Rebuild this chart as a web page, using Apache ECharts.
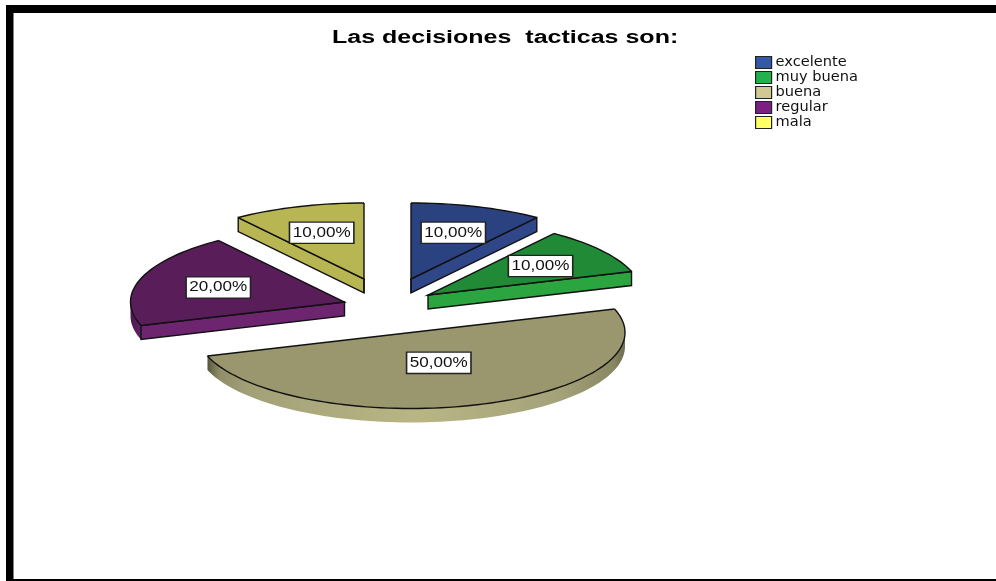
<!DOCTYPE html>
<html>
<head>
<meta charset="utf-8">
<style>html,body{margin:0;padding:0;background:#fff}#c{width:996px;height:581px;filter:blur(0.4px)}</style>
<script src="https://cdn.jsdelivr.net/npm/echarts@6/dist/echarts.min.js"></script>
</head>
<body>
<div id="c"></div>
<script>
var chartTitle = 'Las decisiones  tacticas son:';
var categories = ['excelente', 'muy buena', 'buena', 'regular', 'mala'];
var seriesValues = [10, 10, 50, 20, 10];

// appearance
var legendColors = ['#3557a8', '#22b14c', '#d0ca92', '#7b1f80', '#ffff66'];
var faceColors   = ['#2b4280', '#218a36', '#9a976f', '#591e5a', '#b8b553'];
var wallColors   = ['#2f4788', '#2ba540', '#b0ad7e', '#6d2570', '#b8b553'];
var pieLayout = {
  cx: 387.5, cy: 305, rx: 214, ry: 76, depth: 14,
  explode: [[23.5,-26],[40.5,-10],[23.5,27.5],[-43,-3],[-23.5,-26]],
  labelFactor: [0.64,0.65,0.42,0.62,0.64]
};

var total = seriesValues.reduce(function(a,b){return a+b;},0);

function makeRenderItem(i, startValue) {
  return function (params, api) {
    var L = pieLayout;
    var val = api.value(0);
    var a0 = startValue / total * 360;
    var a1 = (startValue + val) / total * 360;
    var ax = L.cx + L.explode[i][0], ay = L.cy + L.explode[i][1];
    function pt(deg, k, dz) {
      var r = deg * Math.PI / 180;
      return [ax + L.rx * k * Math.sin(r), ay - L.ry * k * Math.cos(r) + (dz || 0)];
    }
    function arc(d0, d1, dz) {
      var out = [], n = Math.max(2, Math.ceil((d1 - d0) / 2));
      for (var j = 0; j <= n; j++) out.push(pt(d0 + (d1 - d0) * j / n, 1, dz));
      return out;
    }
    var kids = [];
    var edge = {stroke:'#111', lineWidth:1.4};
    function edgeWall(deg) {
      var p = pt(deg,1), q = pt(deg,0);
      kids.push({type:'polygon', shape:{points:[q,p,[p[0],p[1]+L.depth],[q[0],q[1]+L.depth]]},
        style:{fill:wallColors[i], stroke:'#111', lineWidth:1.4}});
    }
    // vertical outer wall
    var w0 = Math.max(a0, 90), w1 = Math.min(a1, 270);
    if (w1 > w0) {
      var top = arc(w0, w1, 0), bot = arc(w0, w1, L.depth).reverse();
      var big = (w1 - w0) > 90;
      kids.push({type:'polygon', shape:{points:top.concat(bot)},
        style:{
          fill: big ? {type:'linear',x:0,y:0,x2:1,y2:0,colorStops:[
              {offset:0,color:'#55543c'},{offset:0.01,color:'#6b6a4c'},{offset:0.03,color:'#918f6a'},{offset:0.1,color:'#a2a077'},
              {offset:0.5,color:'#b9b685'},{offset:0.85,color:'#a3a178'},{offset:0.97,color:'#8a8863'},{offset:1,color:'#6e6d50'}]}
            : {type:'linear',x:0,y:0,x2:1,y2:0,colorStops:[
              {offset:0,color:'#4a1a50'},{offset:1,color:'#5f2263'}]},
          stroke:null
        }});
    }
    if (a1 > 0 && a1 < 180) edgeWall(a1);
    if (a0 > 180 && a0 < 360) edgeWall(a0);
    if (a0 % 360 === 0) kids.push({type:'polyline',shape:{points:[pt(0,0),pt(0,0,L.depth)]},style:Object.assign({fill:null},edge)});
    if (a1 === 360) kids.push({type:'polyline',shape:{points:[pt(360,0),pt(360,0,L.depth)]},style:Object.assign({fill:null},edge)});
    // top face
    var rim = arc(a0, a1, 0);
    kids.push({type:'polygon', shape:{points:[pt(a0,0)].concat(rim)},
      style:{fill:faceColors[i], stroke:null}});
    // outlines
    var large = (a1 - a0) >= 180;
    kids.push({type:'polyline', shape:{points:[pt(a1,1),pt(a0,0),pt(a0,1)]},
      style:{fill:null, stroke:'#111', lineWidth:1.4}});
    if (large) {
      kids.push({type:'polyline', shape:{points:arc(a0, a0 + 18, 0)}, style:{fill:null, stroke:'#222', lineWidth:1.5}});
      kids.push({type:'polyline', shape:{points:arc(a0 + 18, a1, 0)}, style:{fill:null, stroke:'#7a7960', lineWidth:0.8}});
    } else {
      kids.push({type:'polyline', shape:{points:rim}, style:{fill:null, stroke:'#111', lineWidth:1.4}});
    }
    // percentage label
    var mid = (a0 + a1) / 2;
    var lp = pt(mid, L.labelFactor[i]);
    kids.push({type:'text', z2:10, x: lp[0], y: lp[1], scaleX:1.22, style:{
      x: 0, y: 0, align:'center', verticalAlign:'middle',
      text: (val / total * 100).toFixed(2).replace('.', ',') + '%',
      font: '14px "Liberation Sans"', fill:'#111',
      backgroundColor:'#fff', borderColor:'#222', borderWidth:1.3,
      padding:[3,2,3,2]
    }});
    return {type:'group', children:kids};
  };
}

var series = [], running = 0;
categories.forEach(function (name, i) {
  series.push({
    type:'custom', name:name, coordinateSystem:'none', silent:true, animation:false,
    itemStyle:{color:legendColors[i]},
    data:[[seriesValues[i]]],
    renderItem: makeRenderItem(i, running)
  });
  running += seriesValues[i];
});

var chart = echarts.init(document.getElementById('c'), null, {renderer:'canvas'});
chart.setOption({
  backgroundColor:'#fff',
  animation:false,
  legend:{orient:'vertical', left:755, top:55, padding:0, itemWidth:16, itemHeight:12, itemGap:0,
    icon:'rect', selectedMode:false,
    itemStyle:{borderColor:'#222', borderWidth:1.2},
    textStyle:{fontFamily:'DejaVu Sans', fontSize:14.6, color:'#111', lineHeight:12, padding:[0,0,0,-1]},
    data:categories},
  graphic:[
    {type:'rect', silent:true, shape:{x:6,y:5,width:990,height:8}, style:{fill:'#000'}},
    {type:'rect', silent:true, shape:{x:6,y:5,width:7.5,height:576}, style:{fill:'#000'}},
    {type:'rect', silent:true, shape:{x:6,y:579,width:990,height:2}, style:{fill:'#000'}},
    {type:'text', silent:true, x:332, y:38, scaleX:1.39,
      style:{text:chartTitle, x:0, y:0, verticalAlign:'middle', font:'bold 18px "Liberation Sans"', fill:'#000'}}
  ],
  series:series
});
</script>
</body>
</html>
